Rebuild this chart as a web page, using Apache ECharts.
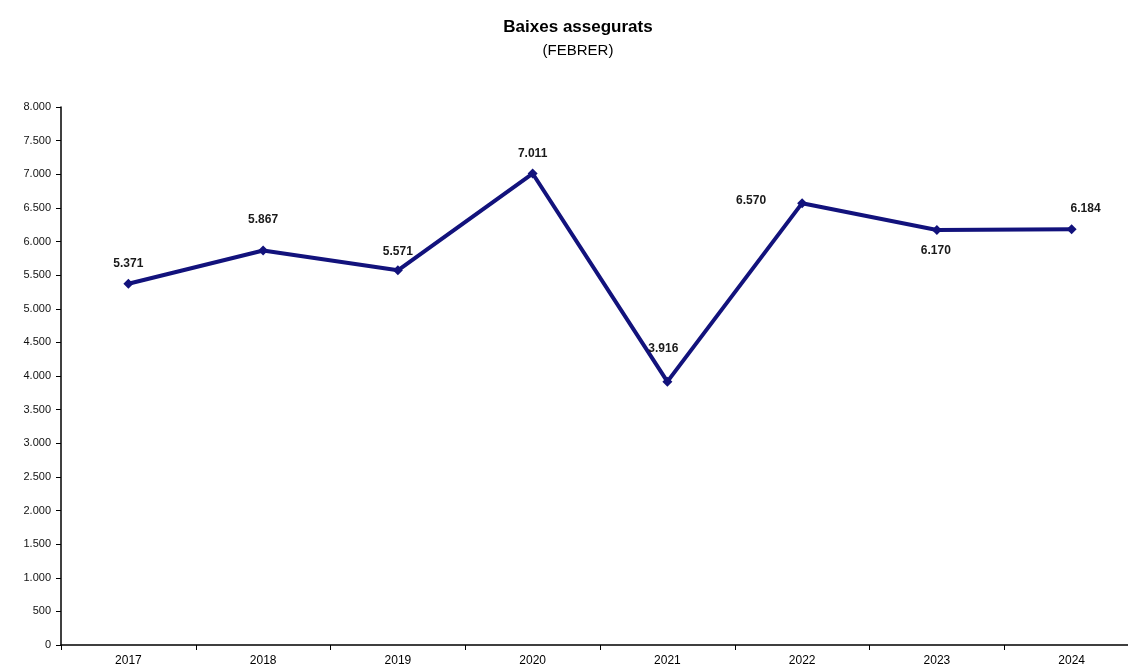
<!DOCTYPE html>
<html>
<head>
<meta charset="utf-8">
<script src="https://cdn.jsdelivr.net/npm/echarts@6/dist/echarts.min.js"></script>
<style>
html,body{margin:0;padding:0;background:#fff;overflow:hidden;width:1128px;height:668px;}
#chart{width:1156px;height:668px;}
</style>
</head>
<body>
<div id="chart"></div>
<script>
const categories = ['2017','2018','2019','2020','2021','2022','2023','2024'];
const values = [5371, 5867, 5571, 7011, 3916, 6570, 6170, 6184];
const titleText = 'Baixes assegurats';
const subtitleText = '(FEBRER)';

// label offsets (styling only)
const labelOffsets = [[0,-20],[0,-31],[0,-19],[0,-20],[-4,-33],[-51,-2],[-1,21],[14,-20]];

function fmt(v){
  return String(v).replace(/\B(?=(\d{3})+(?!\d))/g, '.');
}

const chart = echarts.init(document.getElementById('chart'));
chart.setOption({
  backgroundColor: '#fff',
  animation: false,
  title: [{
    text: titleText,
    left: 'center', top: 14,
    textStyle: {fontFamily: 'Liberation Sans', fontSize: 17, fontWeight: 'bold', color: '#000'}
  },{
    text: subtitleText,
    left: 'center', top: 38,
    textStyle: {fontFamily: 'Liberation Sans', fontSize: 15, fontWeight: 'normal', color: '#000'}
  }],
  grid: {left: 61, top: 107, width: 1078, height: 538, containLabel: false},
  xAxis: {
    type: 'category',
    data: categories,
    boundaryGap: true,
    axisLine: {lineStyle: {color: '#000', width: 1.5}},
    axisTick: {show: true, length: 5, lineStyle: {color: '#000'}},
    axisLabel: {fontFamily: 'Liberation Sans', fontSize: 12, color: '#000', margin: 10}
  },
  yAxis: {
    type: 'value',
    min: 0, max: 8000, interval: 500,
    splitLine: {show: false},
    axisLine: {show: true, lineStyle: {color: '#000', width: 1.5}},
    axisTick: {show: true, length: 5, lineStyle: {color: '#000'}},
    axisLabel: {fontFamily: 'Liberation Sans', fontSize: 11, color: '#111', margin: 10,
      formatter: function(v){ return fmt(v); }}
  },
  series: [{
    type: 'line',
    data: values.map(function(v, i){
      return {value: v, label: {offset: labelOffsets[i]}};
    }),
    symbol: 'diamond',
    symbolSize: 10,
    lineStyle: {color: '#12127c', width: 4},
    itemStyle: {color: '#12127c'},
    label: {
      show: true,
      position: 'inside',
      fontFamily: 'Liberation Sans',
      fontSize: 12,
      fontWeight: 'bold',
      color: '#1a1a1a',
      formatter: function(p){ return fmt(p.value); }
    }
  }]
});
</script>
</body>
</html>
